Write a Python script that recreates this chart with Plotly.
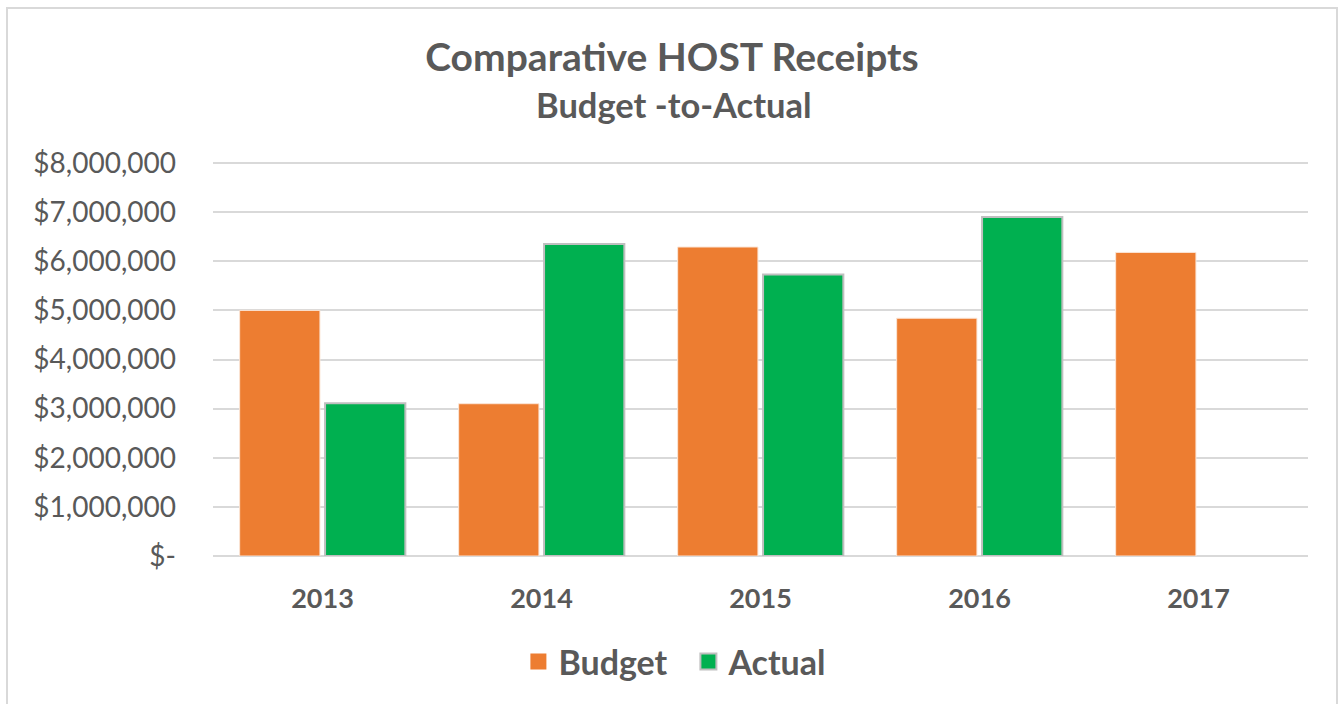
import plotly.graph_objects as go

years = ["2013", "2014", "2015", "2016", "2017"]
budget = [5000000, 3100000, 6290000, 4840000, 6180000]
actual = [3110000, 6350000, 5730000, 6900000, None]
tick_vals = [0, 1000000, 2000000, 3000000, 4000000, 5000000, 6000000, 7000000, 8000000]
tick_text = ["$-", "$1,000,000", "$2,000,000", "$3,000,000", "$4,000,000",
             "$5,000,000", "$6,000,000", "$7,000,000", "$8,000,000"]

FONT = "Lato"
TXT = "#595959"
ORANGE = "#ED7D31"
GREEN = "#00B050"
GRID = "#D9D9D9"

fig = go.Figure()
fig.add_trace(go.Bar(name="Budget", x=years, y=budget, showlegend=False,
                     marker=dict(color=ORANGE, line=dict(color="#FBE5D6", width=1))))
fig.add_trace(go.Bar(name="Actual", x=years, y=actual, showlegend=False,
                     marker=dict(color=GREEN, line=dict(color="#BFBFBF", width=2))))
# legend entries with larger square symbols
fig.add_trace(go.Scatter(name="Budget", x=[None], y=[None], mode="markers",
                         marker=dict(symbol="square", size=20, color=ORANGE)))
fig.add_trace(go.Scatter(name="Actual", x=[None], y=[None], mode="markers",
                         marker=dict(symbol="square", size=20, color=GREEN,
                                     line=dict(color="#BFBFBF", width=2))))

L, R, T, B = 213, 30, 153, 148
W, H = 1338, 704
pw = W - L - R
ph = H - T - B

fig.update_layout(
    width=W, height=H,
    margin=dict(l=L, r=R, t=T, b=B),
    paper_bgcolor="white", plot_bgcolor="white",
    barmode="group", bargap=0.22, bargroupgap=0.06,
    font=dict(family=FONT, color=TXT),
    title=dict(
        text="<b>Comparative HOST Receipts</b>",
        x=(672 / W), xref="container", xanchor="center",
        y=1 - 57 / H, yref="container", yanchor="middle",
        font=dict(family=FONT, size=39, color=TXT),
    ),
    annotations=[dict(text="<b>Budget -to-Actual</b>", xref="paper", yref="paper",
                      x=(674 - L) / pw, y=(H - B - 104) / ph,
                      xanchor="center", yanchor="middle", showarrow=False,
                      font=dict(family=FONT, size=34.5, color=TXT))],
    xaxis=dict(showgrid=False, showline=False, ticks="",
               tickfont=dict(family=FONT, size=27, color=TXT, weight="bold"),
               ticklabelstandoff=24),
    yaxis=dict(range=[0, 8203600], tickvals=tick_vals, ticktext=tick_text,
               showgrid=True, gridcolor=GRID, gridwidth=1.5,
               zeroline=True, zerolinecolor=GRID, zerolinewidth=1.5,
               showline=False,
               tickfont=dict(family=FONT, size=28, color=TXT),
               ticklabelstandoff=36),
    legend=dict(orientation="h", x=0.5145, xref="container", xanchor="center",
                y=1 - 662 / H, yref="container", yanchor="middle",
                font=dict(family=FONT, size=34, color=TXT, weight="bold"),
                itemwidth=30, entrywidth=125, entrywidthmode="pixels",
                traceorder="normal"),
    showlegend=True,
)

# outer chart border
fig.add_shape(type="rect", xref="paper", yref="paper",
              x0=(7 - L) / pw, x1=(1337 - L) / pw,
              y0=(H - B - 720) / ph, y1=(H - B - 8) / ph,
              line=dict(color=GRID, width=2), fillcolor="rgba(0,0,0,0)",
              layer="below")

fig.write_html("out.html", config={"displayModeBar": False},
               post_script="document.body.style.margin='0px';")
